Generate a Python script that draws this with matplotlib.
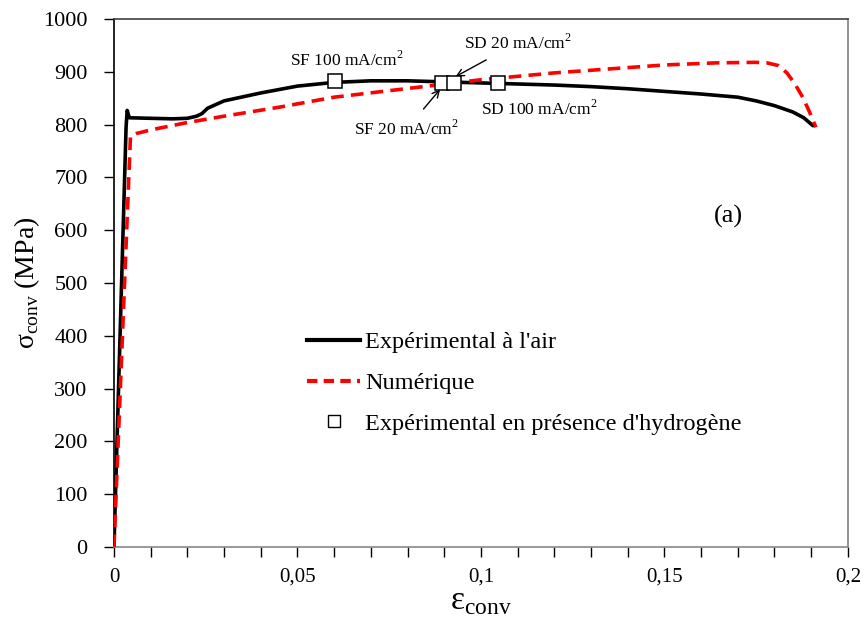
import matplotlib
matplotlib.use("Agg")
import matplotlib.pyplot as plt
from matplotlib.lines import Line2D

plt.rcParams['font.family'] = ['Liberation Serif', 'DejaVu Serif']
plt.rcParams['mathtext.fontset'] = 'custom'
plt.rcParams['mathtext.rm'] = 'Liberation Serif'

# Experimental in air (black)
exp_strain = [0, 0.0033, 0.0036, 0.0042, 0.010, 0.016, 0.020, 0.0225, 0.0240, 0.0255,
              0.030, 0.040, 0.050, 0.060, 0.070, 0.080, 0.090, 0.100, 0.110, 0.120,
              0.130, 0.140, 0.150, 0.160, 0.170, 0.175, 0.180, 0.185, 0.188, 0.1905]
exp_stress = [0, 795, 827, 813, 812, 811, 812, 816, 821, 831,
              845, 860, 873, 880, 883, 883, 881, 879, 877, 875,
              872, 868, 863, 858, 852, 845, 836, 824, 813, 798]

# Numerical (red dashed)
num_strain = [0, 0.0045, 0.006, 0.010, 0.020, 0.030, 0.045, 0.060, 0.088, 0.100,
              0.120, 0.138, 0.150, 0.164, 0.175, 0.178, 0.181, 0.1834, 0.1855,
              0.1877, 0.1895, 0.1913]
num_stress = [0, 778, 783, 790, 804, 816, 833, 852, 875, 885,
              898, 907, 913, 917, 918, 917, 912, 898, 878,
              852, 825, 795]

# Hydrogen experiments (squares)
h_labels = ["SF 100 mA/cm$^2$", "SF 20 mA/cm$^2$", "SD 20 mA/cm$^2$", "SD 100 mA/cm$^2$"]
h_strain = [0.0602, 0.0894, 0.0926, 0.1046]
h_stress = [883, 879, 879, 879]

x_ticks = [0, 0.05, 0.1, 0.15, 0.2]
x_ticklabels = ["0", "0,05", "0,1", "0,15", "0,2"]
y_ticks = [0, 100, 200, 300, 400, 500, 600, 700, 800, 900, 1000]

fig = plt.figure(figsize=(8.66, 6.35), dpi=100)
ax = fig.add_axes([0.1316, 0.1386, 0.979 - 0.1316, 0.970 - 0.1386])

ax.plot(exp_strain, exp_stress, color='black', lw=2.6, solid_capstyle='round', zorder=3)
ax.plot(num_strain, num_stress, color='red', lw=2.6, dashes=(3.5, 2.0), zorder=4)
ax.plot(h_strain, h_stress, linestyle='none', marker='s', markersize=9.5,
        markerfacecolor='white', markeredgecolor='black', markeredgewidth=1.1, zorder=5)

fs_ann = 12.5
ax.text(0.0635, 904, h_labels[0], ha='center', va='bottom', fontsize=fs_ann)
ax.annotate(h_labels[1], xy=(h_strain[1] - 0.0005, h_stress[1] - 12), xytext=(0.0798, 792),
            ha='center', va='center', fontsize=fs_ann,
            arrowprops=dict(arrowstyle='->', color='black', lw=1.0, shrinkA=7, shrinkB=0))
ax.annotate(h_labels[2], xy=(h_strain[2] + 0.0005, h_stress[2] + 12), xytext=(0.110, 955),
            ha='center', va='center', fontsize=fs_ann,
            arrowprops=dict(arrowstyle='->', color='black', lw=1.0, shrinkA=7, shrinkB=0))
ax.text(0.116, 829, h_labels[3], ha='center', va='center', fontsize=fs_ann)

ax.text(0.1675, 627, "(a)", ha='center', va='center', fontsize=19)

ax.set_xlim(0, 0.2)
ax.set_ylim(0, 1000)
ax.set_xticks(x_ticks)
ax.set_xticklabels(x_ticklabels)
ax.set_xticks([i * 0.01 for i in range(21)], minor=True)
ax.set_yticks(y_ticks)
ax.tick_params(axis='both', which='both', direction='out', length=7, width=1)
ax.tick_params(axis='x', labelsize=15, pad=8)
ax.tick_params(axis='y', labelsize=16, pad=12)

ax.set_xlabel("ε$_{\\mathrm{conv}}$", fontsize=24, labelpad=0)
ax.set_ylabel("σ$_{\\mathrm{conv}}$ (MPa)", fontsize=20, labelpad=1)

ax.spines['left'].set_color('black')
ax.spines['bottom'].set_color('#888888')
ax.spines['right'].set_color('#808080')
ax.spines['top'].set_color('#404040')
for s in ax.spines.values():
    s.set_linewidth(1.2)

handles = [Line2D([], [], color='black', lw=3),
           Line2D([], [], color='red', lw=3, dashes=(2.5, 1.5)),
           Line2D([], [], linestyle='none', marker='s', markersize=9,
                  markerfacecolor='white', markeredgecolor='black', markeredgewidth=1)]
labels = ["Expérimental à l'air", "Numérique", "Expérimental en présence d'hydrogène"]
ax.legend(handles, labels, loc='upper left', bbox_to_anchor=(0.233, 0.45), frameon=False,
          fontsize=17.5, handlelength=2.2, handletextpad=0.2, labelspacing=0.77)

fig.savefig('out.png', dpi=100)
